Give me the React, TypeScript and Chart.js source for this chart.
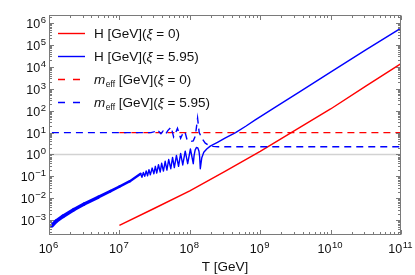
import React, { useEffect, useRef } from 'react';
import { Chart, registerables } from 'chart.js';

Chart.register(...registerables);

// ---------- data ----------
const T_MIN = 1e6;
const T_MAX = 1e11;
const Y_MIN = 2.1e-4;
const Y_MAX = 2.35e6;

const xTickDecades = [6, 7, 8, 9, 10, 11];
const yTickDecades = [-3, -2, -1, 0, 1, 2, 3, 4, 5, 6];

// H [GeV] (xi = 0)
const redH_T = [1e7, 3.16e7, 1e8, 3.16e8, 1e9, 3.16e9, 1e10, 3.16e10, 1e11];
const redH_H = [5.8e-4, 3.5e-3, 2.2e-2, 0.17, 1.4, 13, 120, 1.32e3, 1.4e4];

// H [GeV] (xi = 5.95)
const blueH_T = [
  1.1e6, 1.26e6, 1.58e6, 2.24e6, 3.16e6, 5.01e6, 7.41e6, 1e7, 1.41e7,
  2.0e7, 2.09e7, 2.19e7, 2.29e7, 2.4e7, 2.51e7, 2.63e7, 2.75e7, 2.92e7, 3.09e7,
  3.24e7, 3.39e7, 3.59e7, 3.8e7, 3.98e7, 4.22e7, 4.47e7, 4.73e7, 5.01e7, 5.37e7,
  5.69e7, 6.03e7, 6.46e7, 6.92e7, 7.41e7, 7.94e7, 8.61e7, 9.33e7, 1.02e8, 1.12e8,
  1.15e8, 1.19e8, 1.24e8, 1.3e8, 1.35e8, 1.38e8, 1.41e8, 1.48e8, 1.58e8, 1.74e8,
  1.95e8, 2.51e8, 3.16e8, 4.47e8, 6.31e8, 8.51e8, 1.58e9, 3.72e9, 1e10, 3.16e10, 1e11,
];
const blueH_H = [
  5.6e-4, 8.9e-4, 1.5e-3, 3.0e-3, 5.5e-3, 1.12e-2, 2.1e-2, 3.4e-2, 6.0e-2,
  0.132, 0.091, 0.151, 0.1, 0.178, 0.107, 0.204, 0.117, 0.24, 0.132,
  0.288, 0.141, 0.339, 0.158, 0.398, 0.174, 0.49, 0.195, 0.589, 0.224,
  0.741, 0.251, 0.912, 0.288, 1.12, 0.331, 1.41, 0.38, 1.78, 0.38,
  0.89, 1.58, 2.09, 2.0, 1.41, 0.79, 0.224, 0.71, 1.26, 1.78,
  2.4, 3.7, 5.6, 10, 20, 38, 135, 760, 5.75e3, 6.0e4, 5.9e5,
];

// m_eff [GeV] (xi = 0)
const redM_T = [1e7, 1e8, 1e9, 1e10, 1e11];
const redM_M = [10, 10, 10, 10, 10];

// m_eff [GeV] (xi = 5.95)
const blueM_T = [
  1.1e6, 3e6, 1e7, 2.82e7, 3.16e7, 3.39e7, 3.63e7, 3.89e7, 4.17e7, 4.52e7, 4.9e7, 5.43e7,
  5.89e7, 6.31e7, 6.68e7, 7.41e7, 7.94e7, 8.51e7, 9.12e7, 1e8, 1.12e8, 1.2e8,
  1.29e8, 1.36e8, 1.48e8, 1.66e8, 1.86e8, 2.14e8, 2.51e8, 1e9, 1e10, 1e11,
];
const blueM_M = [
  10, 10, 10, 10, 11, 9.1, 11.2, 8.9, 11.7, 8.3, 12.6, 18,
  6.3, 10, 15.8, 5.5, 8.9, 11.2, 4.8, 3.8, 4.2, 7.1,
  45.7, 10, 5.5, 3.3, 2.6, 2.34, 2.27, 2.27, 2.27, 2.27,
];

// reference line at 1
const unit_T = [1e6, 1e11];
const unit_V = [1, 1];

const xiValues = ['0', '5.95', '0', '5.95'];
const xTitle = 'T [GeV]';

// ---------- styles ----------
const RED = 'rgb(255,0,0)';
const BLUE = 'rgb(0,0,255)';
const GRAY = '#d2d2d2';
const FRAME = '#7a7a7a';
const TEXT = '#111111';
const FONT = '"Liberation Sans", Arial, sans-serif';

const pts = (xs: number[], ys: number[]) => xs.map((x, i) => ({ x, y: ys[i] }));

function drawPow(ctx: CanvasRenderingContext2D, exp: string, x: number, y: number, align: 'center' | 'right') {
  const base = 12.5;
  const sup = 9.5;
  ctx.font = `${base}px ${FONT}`;
  const w1 = ctx.measureText('10').width;
  ctx.font = `${sup}px ${FONT}`;
  const w2 = ctx.measureText(exp).width;
  const gap = 0.5;
  const total = w1 + gap + w2;
  const x0 = align === 'center' ? x - total / 2 : x - total;
  ctx.textAlign = 'left';
  ctx.textBaseline = 'alphabetic';
  ctx.font = `${base}px ${FONT}`;
  ctx.fillText('10', x0, y);
  ctx.font = `${sup}px ${FONT}`;
  ctx.fillText(exp, x0 + w1 + gap, y - 5);
}

const decorPlugin = {
  id: 'decor',
  afterDraw(chart: any) {
    const { ctx, chartArea: a, scales } = chart;
    const xs = scales.x;
    const ys = scales.y;
    ctx.save();
    // frame
    ctx.strokeStyle = FRAME;
    ctx.lineWidth = 1;
    const L = Math.round(a.left) + 0.5;
    const R = Math.round(a.right) - 0.5;
    const Tp = Math.round(a.top) + 0.5;
    const B = Math.round(a.bottom) - 0.5;
    ctx.strokeRect(L, Tp, R - L, B - Tp);

    ctx.beginPath();
    // x ticks
    for (let d = 6; d <= 11; d++) {
      for (let k = 1; k <= 9; k++) {
        const v = k * Math.pow(10, d);
        if (v < T_MIN * 0.999 || v > T_MAX * 1.001) continue;
        const px = Math.round(xs.getPixelForValue(v)) + 0.5;
        const len = k === 1 ? 4.5 : 2.5;
        ctx.moveTo(px, B);
        ctx.lineTo(px, B - len);
        ctx.moveTo(px, Tp);
        ctx.lineTo(px, Tp + len);
      }
    }
    // y ticks
    for (let d = -4; d <= 6; d++) {
      for (let k = 1; k <= 9; k++) {
        const v = k * Math.pow(10, d);
        if (v < Y_MIN || v > Y_MAX) continue;
        const py = Math.round(ys.getPixelForValue(v)) + 0.5;
        const len = k === 1 ? 4.5 : 2.5;
        ctx.moveTo(L, py);
        ctx.lineTo(L + len, py);
        ctx.moveTo(R, py);
        ctx.lineTo(R - len, py);
      }
    }
    ctx.stroke();

    // tick labels
    ctx.fillStyle = TEXT;
    xTickDecades.forEach((d) => {
      const px = xs.getPixelForValue(Math.pow(10, d));
      drawPow(ctx, String(d).replace('-', '\u2212'), px - 0.5, 253, 'center');
    });
    yTickDecades.forEach((d) => {
      const py = ys.getPixelForValue(Math.pow(10, d));
      drawPow(ctx, String(d).replace('-', '\u2212'), 46, py + 5, 'right');
    });

    // axis title
    ctx.font = `13.5px ${FONT}`;
    ctx.textAlign = 'center';
    ctx.fillText(xTitle, 225, 271);

    // legend
    const colors = [RED, BLUE, RED, BLUE];
    for (let i = 0; i < 4; i++) {
      const y = 33.5 + i * 23;
      ctx.strokeStyle = colors[i];
      ctx.lineWidth = 1.4;
      ctx.setLineDash(i >= 2 ? [7, 8] : []);
      ctx.beginPath();
      ctx.moveTo(58, y);
      ctx.lineTo(85, y);
      ctx.stroke();
      ctx.setLineDash([]);
      ctx.fillStyle = TEXT;
      ctx.textAlign = 'left';
      let x = 94;
      const by = y + 4.8;
      const put = (s: string, font: string, dy = 0) => {
        ctx.font = font;
        ctx.fillText(s, x, by + dy);
        x += ctx.measureText(s).width;
      };
      if (i < 2) {
        put('H [GeV](', `13.5px ${FONT}`);
      } else {
        put('m', `italic 13.5px ${FONT}`);
        x += 0.5;
        put('eff', `8.5px ${FONT}`, 2.5);
        put(' [GeV](', `13.5px ${FONT}`);
      }
      put('\u03BE', `italic 13.5px ${FONT}`);
      put(` = ${xiValues[i]})`, `13.5px ${FONT}`);
    }
    ctx.restore();
  },
};

export default function App() {
  const ref = useRef<HTMLCanvasElement | null>(null);
  useEffect(() => {
    if (!ref.current) return;
    const chart = new Chart(ref.current, {
      type: 'line',
      data: {
        datasets: [
          {
            data: pts(blueM_T, blueM_M),
            borderColor: BLUE,
            borderWidth: 1.4,
            borderDash: [7, 5],
            pointRadius: 0,
            tension: 0,
            order: 1,
          },
          {
            data: pts(redM_T, redM_M),
            borderColor: RED,
            borderWidth: 1.4,
            borderDash: [7, 5],
            pointRadius: 0,
            tension: 0,
            order: 2,
          },
          {
            data: pts(blueH_T, blueH_H),
            borderColor: BLUE,
            borderWidth: 1.4,
            borderJoinStyle: 'round',
            borderCapStyle: 'round',
            pointRadius: 0,
            tension: 0,
            order: 3,
            segment: {
              borderWidth: (c: any) => {
                const lt = Math.log10(c.p0.parsed.x);
                return lt < 7.3 ? 4 - 1.5 * (lt - 6) : 1.4;
              },
            },
          },
          {
            data: pts(redH_T, redH_H),
            borderColor: RED,
            borderWidth: 1.4,
            pointRadius: 0,
            tension: 0,
            order: 4,
          },
          {
            data: pts(unit_T, unit_V),
            borderColor: GRAY,
            borderWidth: 1.6,
            pointRadius: 0,
            tension: 0,
            order: 5,
          },
        ],
      } as any,
      options: {
        animation: false,
        responsive: false,
        devicePixelRatio: 1,
        events: [],
        layout: { padding: { left: 49, right: 14, top: 15, bottom: 40 } },
        plugins: { legend: { display: false }, tooltip: { enabled: false } },
        scales: {
          x: { type: 'logarithmic', min: T_MIN, max: T_MAX, display: false },
          y: { type: 'logarithmic', min: Y_MIN, max: Y_MAX, display: false },
        },
      } as any,
      plugins: [decorPlugin],
    });
    return () => chart.destroy();
  }, []);
  return (
    <div style={{ position: 'absolute', left: 0, top: 0, width: 415, height: 275, background: '#fff' }}>
      <canvas ref={ref} width={415} height={275} style={{ display: 'block' }} />
    </div>
  );
}
